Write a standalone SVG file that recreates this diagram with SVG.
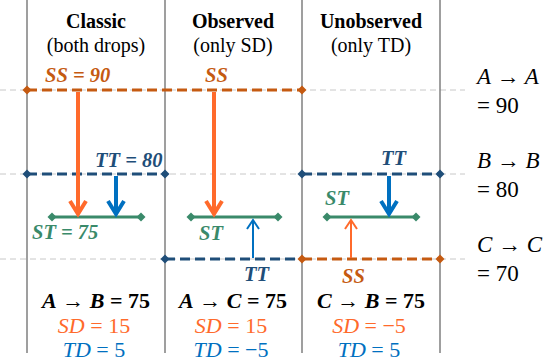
<svg xmlns="http://www.w3.org/2000/svg" width="546" height="362" viewBox="0 0 546 362">
<defs>
<style>
.vline{stroke:#7f7f7f;stroke-width:1.5;fill:none}
.grid{stroke:#c8c8c8;stroke-width:1;stroke-dasharray:6,4;fill:none}
.ss{stroke:#c55a11;stroke-width:3;stroke-dasharray:10,5;fill:none}
.tt{stroke:#1f4e79;stroke-width:3;stroke-dasharray:10,5;fill:none}
.st{stroke:#3a8a6a;stroke-width:3;fill:none}
.oa{stroke:#ff6a2b;fill:none;stroke-linejoin:miter}
.ba{stroke:#0070c0;fill:none;stroke-linejoin:miter}
text{font-family:'Liberation Serif','Times New Roman','DejaVu Serif',serif}
.hd{font-size:20px;text-anchor:middle;fill:#000}
.m{font-style:italic;font-weight:bold;font-size:20.5px}
.r{font-size:23px;fill:#000}
.b{font-size:22px;text-anchor:middle}
</style>
<marker id="dO" viewBox="-5 -5 10 10" markerWidth="10" markerHeight="10" refX="0" refY="0" markerUnits="userSpaceOnUse"><path d="M-4.5 0L0 -4.5L4.5 0L0 4.5Z" fill="#c55a11"/></marker>
<marker id="dB" viewBox="-5 -5 10 10" markerWidth="10" markerHeight="10" refX="0" refY="0" markerUnits="userSpaceOnUse"><path d="M-4.5 0L0 -4.5L4.5 0L0 4.5Z" fill="#1f4e79"/></marker>
<marker id="dG" viewBox="-5 -5 10 10" markerWidth="10" markerHeight="10" refX="0" refY="0" markerUnits="userSpaceOnUse"><path d="M-4.5 0L0 -4.5L4.5 0L0 4.5Z" fill="#3a8a6a"/></marker>
</defs>
<rect width="546" height="362" fill="#fff"/>
<g id="grid">
<line class="grid" x1="0" y1="90" x2="465" y2="90"/>
<line class="grid" x1="0" y1="174" x2="465" y2="174"/>
<line class="grid" x1="0" y1="259" x2="465" y2="259"/>
<line class="vline" x1="27" y1="0" x2="27" y2="353"/>
<line class="vline" x1="165" y1="0" x2="165" y2="353"/>
<line class="vline" x1="302" y1="0" x2="302" y2="353"/>
<line class="vline" x1="440" y1="0" x2="440" y2="353"/>
</g>
<g id="headers">
<text class="hd" x="96" y="28" font-weight="bold">Classic</text>
<text class="hd" x="96" y="52">(both drops)</text>
<text class="hd" x="233" y="28" font-weight="bold">Observed</text>
<text class="hd" x="233" y="52">(only SD)</text>
<text class="hd" x="371" y="28" font-weight="bold">Unobserved</text>
<text class="hd" x="371" y="52">(only TD)</text>
</g>
<g id="levels">
<line class="ss" x1="27" y1="90" x2="302" y2="90" marker-start="url(#dO)" marker-end="url(#dO)"/>
<line class="tt" x1="27" y1="174" x2="165" y2="174" marker-start="url(#dB)" marker-end="url(#dB)"/>
<line class="tt" x1="302" y1="174" x2="440" y2="174" marker-start="url(#dB)" marker-end="url(#dB)"/>
<line class="tt" x1="165" y1="259" x2="302" y2="259" marker-start="url(#dB)"/>
<line class="ss" x1="302" y1="259" x2="440" y2="259" marker-start="url(#dO)" marker-end="url(#dO)"/>
<line class="st" x1="52" y1="217" x2="141" y2="217" marker-start="url(#dG)" marker-end="url(#dG)"/>
<line class="st" x1="191" y1="217" x2="278" y2="217" marker-start="url(#dG)" marker-end="url(#dG)"/>
<line class="st" x1="327" y1="217" x2="416" y2="217" marker-start="url(#dG)" marker-end="url(#dG)"/>
</g>
<g id="connectors">
<line class="oa" stroke-width="4" x1="78" y1="92" x2="78" y2="214"/>
<polyline class="oa" stroke-width="4" points="70,201 78,214 86,201"/>
<line class="ba" stroke-width="4" x1="116" y1="176" x2="116" y2="214"/>
<polyline class="ba" stroke-width="4" points="108,201 116,214 124,201"/>
<line class="oa" stroke-width="4" x1="214" y1="92" x2="214" y2="214"/>
<polyline class="oa" stroke-width="4" points="206,201 214,214 222,201"/>
<line class="ba" stroke-width="2" x1="253" y1="258" x2="253" y2="220"/>
<polyline class="ba" stroke-width="2" points="247,229 253,220 259,229"/>
<line class="ba" stroke-width="4" x1="389" y1="176" x2="389" y2="214"/>
<polyline class="ba" stroke-width="4" points="381,201 389,214 397,201"/>
<line class="oa" stroke-width="2" x1="351" y1="258" x2="351" y2="220"/>
<polyline class="oa" stroke-width="2" points="345,229 351,220 357,229"/>
</g>
<g id="labels">
<text class="m" x="45" y="82" fill="#c55a11">SS = 90</text>
<text class="m" x="205" y="82" fill="#c55a11">SS</text>
<text class="m" x="95" y="167" fill="#1f4e79">TT = 80</text>
<text class="m" x="381" y="165" fill="#1f4e79">TT</text>
<text class="m" x="32" y="239" fill="#3a8a6a">ST = 75</text>
<text class="m" x="199" y="240" fill="#3a8a6a">ST</text>
<text class="m" x="325" y="205" fill="#3a8a6a">ST</text>
<text class="m" x="244" y="281" fill="#1f4e79">TT</text>
<text class="m" x="342" y="283" fill="#c55a11">SS</text>
</g>
<g id="right">
<text class="r" x="477" y="84" font-style="italic">A <tspan font-style="normal">→</tspan> A</text>
<text class="r" x="477" y="113">= 90</text>
<text class="r" x="477" y="168" font-style="italic">B <tspan font-style="normal">→</tspan> B</text>
<text class="r" x="477" y="197">= 80</text>
<text class="r" x="477" y="252" font-style="italic">C <tspan font-style="normal">→</tspan> C</text>
<text class="r" x="477" y="281">= 70</text>
</g>
<g id="bottom">
<text class="b" x="96" y="308" font-weight="bold" fill="#000"><tspan font-style="italic">A</tspan> → <tspan font-style="italic">B</tspan> = 75</text>
<text class="b" x="94" y="333" fill="#ff6a2b"><tspan font-style="italic">SD</tspan> = 15</text>
<text class="b" x="94" y="357" fill="#0070c0"><tspan font-style="italic">TD</tspan> = 5</text>
<text class="b" x="233" y="308" font-weight="bold" fill="#000"><tspan font-style="italic">A</tspan> → <tspan font-style="italic">C</tspan> = 75</text>
<text class="b" x="231" y="333" fill="#ff6a2b"><tspan font-style="italic">SD</tspan> = 15</text>
<text class="b" x="231" y="357" fill="#0070c0"><tspan font-style="italic">TD</tspan> = −5</text>
<text class="b" x="371" y="308" font-weight="bold" fill="#000"><tspan font-style="italic">C</tspan> → <tspan font-style="italic">B</tspan> = 75</text>
<text class="b" x="369" y="333" fill="#ff6a2b"><tspan font-style="italic">SD</tspan> = −5</text>
<text class="b" x="369" y="357" fill="#0070c0"><tspan font-style="italic">TD</tspan> = 5</text>
</g>
</svg>
